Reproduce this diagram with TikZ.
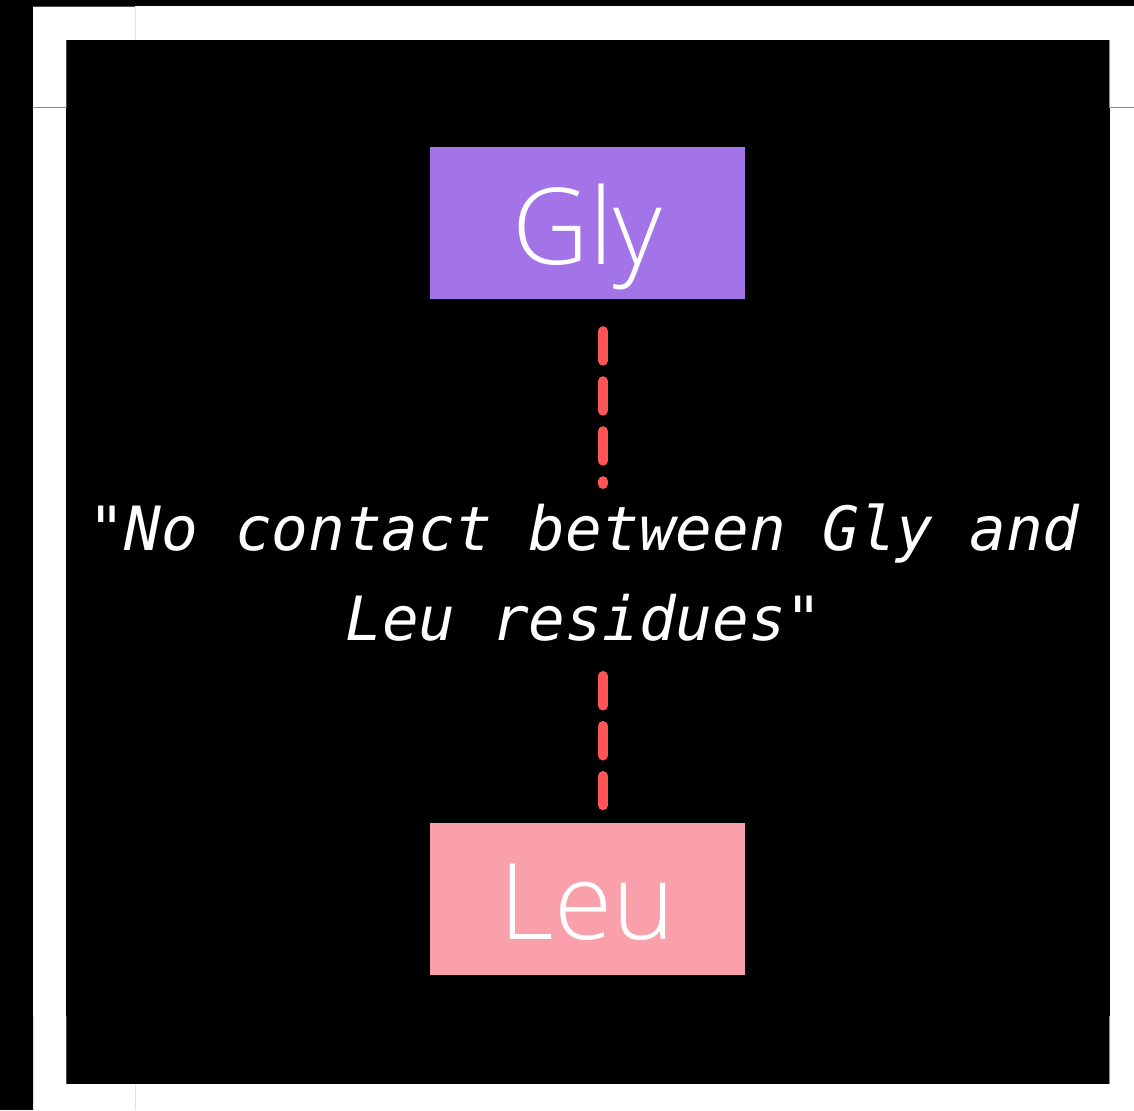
\documentclass[tikz,border=0pt]{standalone}
\usepackage{fontspec}
\newfontfamily\boxfont{Open Sans Light}
\newfontfamily\notefont{DejaVu Sans Mono}
\definecolor{glyfill}{HTML}{A374E8}
\definecolor{leufill}{HTML}{F9A0AA}
\definecolor{linkred}{HTML}{FF5555}
\tikzset{
  residue/.style={minimum width=315pt, minimum height=152pt, inner sep=0pt,
    text height=82pt, text depth=0pt, text=white,
    font=\boxfont\fontsize{106}{120}\selectfont},
  nolink/.style={draw=linkred, line width=10pt, line cap=round,
    dash pattern=on 29.5pt off 20.5pt},
  seam/.style={line width=1pt, draw=#1}
}
\begin{document}
\begin{tikzpicture}[x=1pt, y=-1pt]
  % page background and frame
  \fill[black] (0,0) rectangle (1134,1110);
  \useasboundingbox (0,0) rectangle (1134,1110);
  \fill[white] (33,6) rectangle (1134,1110);
  \fill[black] (66,40) rectangle (1110,1084);
  % faint tile seams
  \draw[seam=black!70] (33,6.5) -- (135,6.5);
  \draw[seam=black!10] (135,6) -- (135,40);
  \draw[seam=black!45] (33,108) -- (66,108);
  \draw[seam=black!45] (1110,108) -- (1134,108);
  \draw[seam=black!70] (66.5,40) -- (66.5,108);
  \draw[seam=black!45] (1109.5,40) -- (1109.5,108);
  \draw[seam=black!70] (66.5,1016) -- (66.5,1084);
  \draw[seam=black!45] (1109.5,1016) -- (1109.5,1084);
  \draw[seam=black!12] (33.5,1016) -- (33.5,1110);
  \draw[seam=black!12] (135,1084) -- (135,1110);

  % residues
  \node[residue, fill=glyfill] (gly) at (587.5,223) {Gly};
  \node[residue, fill=leufill] (leu) at (587.5,898.5) {Leu};

  % annotation
  \node[text=white, align=center, inner sep=0pt,
        font=\notefont\itshape\fontsize{61}{90}\selectfont]
    (note) at (584,573) {"No contact between Gly and\\Leu residues"};

  % dashed link, interrupted by the annotation
  \coordinate (lane) at (603,0);
  \draw[nolink, shorten <=32pt, shorten >=89pt] (gly.south -| lane) -- (note.center -| lane);
  \draw[nolink, shorten <=103pt, shorten >=17pt] (note.center -| lane) -- (leu.north -| lane);
\end{tikzpicture}
\end{document}
